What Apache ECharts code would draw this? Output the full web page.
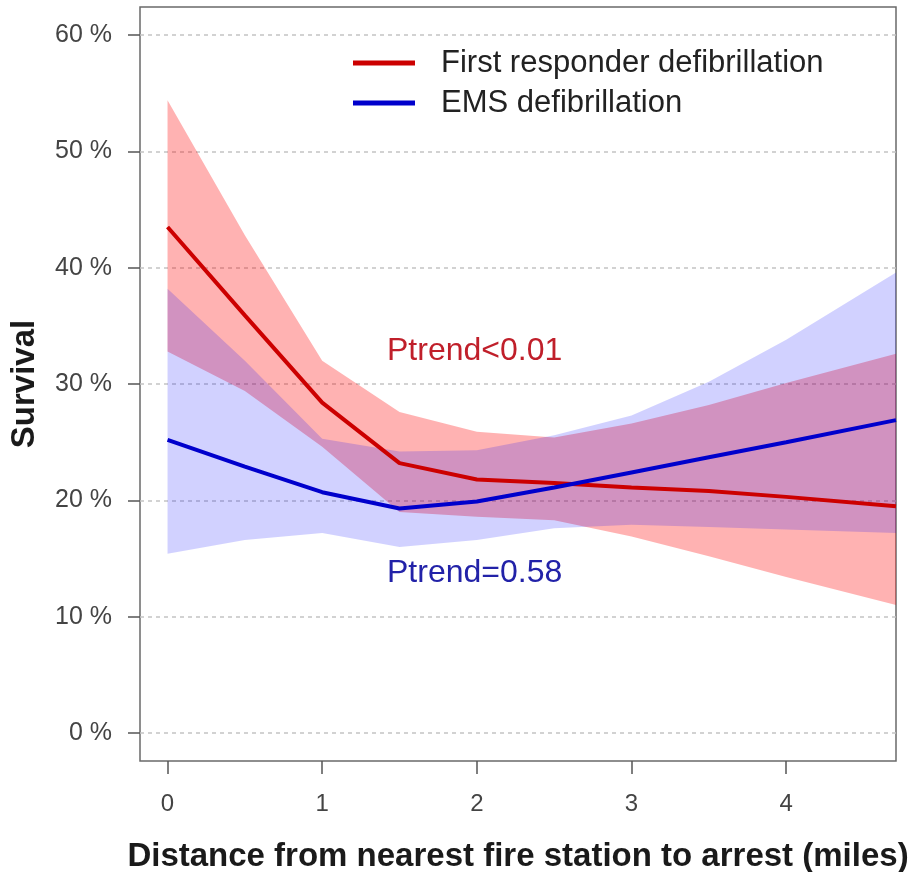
<!DOCTYPE html>
<html>
<head>
<meta charset="utf-8">
<script src="https://cdn.jsdelivr.net/npm/echarts@6/dist/echarts.min.js"></script>
<style>
  html, body { margin: 0; padding: 0; background: #fff; }
  #chart { width: 924px; height: 872px; }
</style>
</head>
<body>
<div id="chart"></div>
<script>
(function () {
  var FONT = '"Liberation Sans", Arial, sans-serif';
  var RED = '#cc0000';
  var BLUE = '#0000cc';

  // distance from nearest fire station (miles)
  var DISTANCE = [0, 0.5, 1, 1.5, 2, 2.5, 3, 3.5, 4, 4.71];

  // first responder defibrillation: survival % and 95% band
  var FR_SURV = [43.5, 35.9, 28.4, 23.2, 21.8, 21.5, 21.1, 20.8, 20.3, 19.5];
  var FR_UPPER = [54.4, 42.8, 32.0, 27.6, 25.9, 25.4, 26.6, 28.2, 30.1, 32.6];
  var FR_LOWER = [32.8, 29.4, 24.6, 19.0, 18.6, 18.3, 16.9, 15.2, 13.4, 11.0];

  // EMS defibrillation
  var EMS_SURV = [25.2, 22.9, 20.7, 19.3, 19.9, 21.1, 22.4, 23.7, 25.0, 26.9];
  var EMS_UPPER = [38.2, 32.0, 25.3, 24.2, 24.3, 25.6, 27.3, 30.2, 33.8, 39.6];
  var EMS_LOWER = [15.4, 16.6, 17.2, 16.0, 16.6, 17.6, 17.9, 17.7, 17.5, 17.2];

  var X_TICKS = [0, 1, 2, 3, 4];
  var Y_TICKS = [0, 10, 20, 30, 40, 50, 60];

  var SERIES_NAMES = ['First responder defibrillation', 'EMS defibrillation'];

  function pairs(xs, ys) {
    return xs.map(function (x, i) { return [x, ys[i]]; });
  }

  function bandSeries(name, lower, upper, fill) {
    return {
      name: name,
      type: 'custom',
      silent: true,
      clip: true,
      z: 2,
      data: pairs(DISTANCE, lower),
      renderItem: function (params, api) {
        if (params.dataIndex !== 0) return;
        var pts = [];
        DISTANCE.forEach(function (x, i) { pts.push(api.coord([x, upper[i]])); });
        for (var i = DISTANCE.length - 1; i >= 0; i--) {
          pts.push(api.coord([DISTANCE[i], lower[i]]));
        }
        return { type: 'polygon', shape: { points: pts }, style: { fill: fill } };
      }
    };
  }

  function lineSeries(name, values, color) {
    return {
      name: name,
      type: 'line',
      symbol: 'none',
      color: color,
      z: 4,
      lineStyle: { color: color, width: 4 },
      data: pairs(DISTANCE, values)
    };
  }

  var chart = echarts.init(document.getElementById('chart'));

  chart.setOption({
    animation: false,
    backgroundColor: '#fff',
    textStyle: { fontFamily: FONT },
    grid: {
      left: 140, right: 28, top: 7, bottom: 111,
      outerBoundsMode: 'none',
      show: true, borderColor: '#6a6a6a', borderWidth: 1.5, backgroundColor: 'transparent'
    },
    legend: {
      data: SERIES_NAMES,
      orient: 'vertical',
      left: 353,
      top: 45,
      padding: 0,
      itemGap: 4,
      icon: 'rect',
      itemWidth: 62,
      itemHeight: 5,
      selectedMode: false,
      textStyle: {
        fontFamily: FONT, fontSize: 31, lineHeight: 36, color: '#222',
        padding: [0, 0, 0, 21]
      }
    },
    xAxis: {
      type: 'value',
      min: -0.178,
      max: 4.71,
      name: 'Distance from nearest fire station to arrest (miles)',
      nameLocation: 'middle',
      nameGap: 79,
      nameTextStyle: { fontFamily: FONT, fontSize: 33, fontWeight: 'bold', color: '#1a1a1a' },
      axisLine: { show: false, onZero: false },
      splitLine: { show: false },
      axisTick: {
        show: true, length: 13, customValues: X_TICKS,
        lineStyle: { color: '#555', width: 1.5 }
      },
      axisLabel: {
        customValues: X_TICKS, margin: 31,
        fontFamily: FONT, fontSize: 24, color: '#444'
      }
    },
    yAxis: {
      type: 'value',
      min: -2.41,
      max: 62.42,
      name: 'Survival',
      nameLocation: 'middle',
      nameGap: 99,
      nameTextStyle: { fontFamily: FONT, fontSize: 33, fontWeight: 'bold', color: '#1a1a1a' },
      axisLine: { show: false, onZero: false },
      splitLine: { show: false },
      axisTick: {
        show: true, length: 12, customValues: Y_TICKS,
        lineStyle: { color: '#555', width: 1.5 }
      },
      axisLabel: {
        customValues: Y_TICKS, margin: 28,
        fontFamily: FONT, fontSize: 25, color: '#444',
        formatter: function (v) { return v + ' %'; }
      }
    },
    graphic: [
      {
        type: 'text', left: 387, top: 335, silent: true,
        style: { text: 'Ptrend<0.01', fill: '#c01f2a', font: '32px ' + FONT }
      },
      {
        type: 'text', left: 387, top: 557, silent: true,
        style: { text: 'Ptrend=0.58', fill: '#2222a8', font: '32px ' + FONT }
      }
    ],
    series: [
      {
        type: 'line',
        silent: true,
        symbol: 'none',
        data: [],
        z: 1,
        markLine: {
          silent: true,
          symbol: 'none',
          z: 1,
          label: { show: false },
          lineStyle: { color: '#c4c4c4', type: [4, 4], width: 1.5 },
          data: Y_TICKS.map(function (v) { return { yAxis: v }; })
        }
      },
      bandSeries('fr-band', FR_LOWER, FR_UPPER, 'rgba(255,0,0,0.3)'),
      bandSeries('ems-band', EMS_LOWER, EMS_UPPER, 'rgba(0,0,255,0.18)'),
      lineSeries(SERIES_NAMES[0], FR_SURV, RED),
      lineSeries(SERIES_NAMES[1], EMS_SURV, BLUE)
    ]
  });

  window.addEventListener('resize', function () { chart.resize(); });
})();
</script>
</body>
</html>
